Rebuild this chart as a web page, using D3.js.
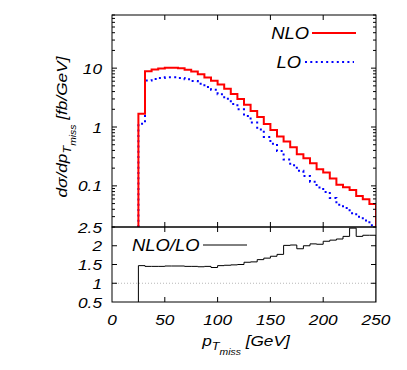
<!DOCTYPE html>
<html>
<head>
<meta charset="utf-8">
<script src="https://cdn.jsdelivr.net/npm/d3@7"></script>
<style>
  body { margin: 0; background: #fff; }
  text { font-family: "Liberation Sans", Arial, sans-serif; font-style: italic; fill: #000; }
</style>
</head>
<body>
<div id="graph"></div>
<script>
// bin edges in GeV (36 bins of 6.25 GeV)
var edges = [25, 31.25, 37.5, 43.75, 50, 56.25, 62.5, 68.75, 75, 81.25, 87.5, 93.75,
	100, 106.25, 112.5, 118.75, 125, 131.25, 137.5, 143.75, 150, 156.25, 162.5, 168.75,
	175, 181.25, 187.5, 193.75, 200, 206.25, 212.5, 218.75, 225, 231.25, 237.5, 243.75, 250];

// d sigma / d pT_miss [fb/GeV]
var nlo = [1.68, 8.9, 9.5, 9.9, 10.2, 10.2, 9.95, 9.35, 8.75, 7.85, 6.95, 6.1,
	5.3, 4.45, 3.65, 3.0, 2.4, 1.87, 1.48, 1.13, 0.89, 0.69, 0.565, 0.455,
	0.345, 0.295, 0.242, 0.192, 0.168, 0.134, 0.104, 0.095, 0.085, 0.067, 0.059, 0.049];
var lo = [1.14, 6.14, 6.55, 6.83, 6.99, 6.99, 6.82, 6.45, 6.03, 5.45, 4.79, 4.30,
	3.61, 3.01, 2.45, 2.0, 1.54, 1.19, 0.908, 0.677, 0.517, 0.39, 0.281, 0.225,
	0.180, 0.1475, 0.118, 0.094, 0.079, 0.0623, 0.0477, 0.0422, 0.0344, 0.0298, 0.0259, 0.0215];
// NLO/LO
var ratio = [1.47, 1.45, 1.45, 1.45, 1.46, 1.46, 1.46, 1.45, 1.45, 1.44, 1.45, 1.42,
	1.47, 1.48, 1.49, 1.5, 1.56, 1.57, 1.63, 1.67, 1.72, 1.77, 2.01, 2.02,
	1.92, 2.0, 2.05, 2.04, 2.12, 2.15, 2.18, 2.25, 2.47, 2.25, 2.28, 2.28];

var xTicks = [0, 50, 100, 150, 200, 250];
var yTicks = [0.1, 1, 10];
var rTicks = [0.5, 1, 1.5, 2, 2.5];

var W = 407, H = 370;
var pL = 112, pR = 376, pT = 15, pM = 227, pB = 302;

var x = d3.scaleLinear().domain([0, 250]).range([pL, pR]);
var y = d3.scaleLog().domain([0.02, 80]).range([pM, pT]);
var yr = d3.scaleLinear().domain([0.5, 2.5]).range([pB, pM]);

var vis = d3.select("#graph").append("svg")
	.attr("width", W)
	.attr("height", H);

vis.append("clipPath").attr("id", "clipTop")
	.append("rect").attr("x", pL).attr("y", pT).attr("width", pR - pL).attr("height", pM - pT);
vis.append("clipPath").attr("id", "clipBot")
	.append("rect").attr("x", pL).attr("y", pM).attr("width", pR - pL).attr("height", pB - pM);

function stepPoints(vals, ymin) {
	var pts = [[edges[0], ymin]];
	vals.forEach(function (v, i) { pts.push([edges[i], v]); });
	pts.push([edges[edges.length - 1], vals[vals.length - 1]]);
	pts.push([edges[edges.length - 1], ymin]);
	return pts;
}

var lineTop = d3.line().curve(d3.curveStepAfter)
	.x(function (d) { return x(d[0]); })
	.y(function (d) { return y(d[1]); });
var lineBot = d3.line().curve(d3.curveStepAfter)
	.x(function (d) { return x(d[0]); })
	.y(function (d) { return yr(d[1]); });

// ratio reference line at 1
vis.append("line")
	.attr("x1", pL).attr("x2", pR)
	.attr("y1", yr(1)).attr("y2", yr(1))
	.attr("style", "stroke:#999;stroke-width:0.7;stroke-dasharray:1,2");

var gTop = vis.append("g").attr("clip-path", "url(#clipTop)");
gTop.append("path")
	.attr("d", lineTop(stepPoints(lo, 0.02)))
	.attr("style", "fill:none;stroke:#0000ff;stroke-width:2;stroke-dasharray:2,3.3");
gTop.append("path")
	.attr("d", lineTop(stepPoints(nlo, 0.02)))
	.attr("style", "fill:none;stroke:#ff0000;stroke-width:2");

vis.append("g").attr("clip-path", "url(#clipBot)")
	.append("path")
	.attr("d", lineBot(stepPoints(ratio, 0.5)))
	.attr("style", "fill:none;stroke:#000;stroke-width:1");

// frames
vis.append("rect").attr("x", pL).attr("y", pT).attr("width", pR - pL).attr("height", pM - pT)
	.attr("style", "fill:none;stroke:#000;stroke-width:1");
vis.append("rect").attr("x", pL).attr("y", pM).attr("width", pR - pL).attr("height", pB - pM)
	.attr("style", "fill:none;stroke:#000;stroke-width:1");

// ticks
var tk = vis.append("g").attr("style", "stroke:#000;stroke-width:1");
xTicks.slice(1, -1).forEach(function (t) {
	var px = x(t);
	tk.append("line").attr("x1", px).attr("x2", px).attr("y1", pT).attr("y2", pT + 5);
	tk.append("line").attr("x1", px).attr("x2", px).attr("y1", pM - 5).attr("y2", pM + 5);
	tk.append("line").attr("x1", px).attr("x2", px).attr("y1", pB - 5).attr("y2", pB);
});
var minor = [];
[0.01, 0.1, 1, 10].forEach(function (dec) {
	for (var m = 2; m <= 9; m++) {
		var v = dec * m;
		if (v >= 0.02 && v <= 80) minor.push(v);
	}
});
minor.forEach(function (v) {
	tk.append("line").attr("x1", pL).attr("x2", pL + 3).attr("y1", y(v)).attr("y2", y(v));
	tk.append("line").attr("x1", pR - 3).attr("x2", pR).attr("y1", y(v)).attr("y2", y(v));
});
yTicks.forEach(function (v) {
	tk.append("line").attr("x1", pL).attr("x2", pL + 5).attr("y1", y(v)).attr("y2", y(v));
	tk.append("line").attr("x1", pR - 5).attr("x2", pR).attr("y1", y(v)).attr("y2", y(v));
});
rTicks.slice(1, -1).forEach(function (v) {
	tk.append("line").attr("x1", pL).attr("x2", pL + 5).attr("y1", yr(v)).attr("y2", yr(v));
	tk.append("line").attr("x1", pR - 5).attr("x2", pR).attr("y1", yr(v)).attr("y2", yr(v));
});

// text helper: gnuplot output looks a bit stretched sideways
var sx = 1.15;
function label(px, py, anchor, size, str) {
	return vis.append("text")
		.attr("transform", "translate(" + px + "," + py + ") scale(" + sx + ",1)")
		.attr("text-anchor", anchor).attr("font-size", size).text(str);
}

var fs = 15;
yTicks.forEach(function (v) {
	label(pL - 10, y(v) + 5.5, "end", fs, v);
});
rTicks.forEach(function (v) {
	label(pL - 10, yr(v) + 5.5, "end", fs, v);
});
xTicks.forEach(function (t) {
	label(x(t), pB + 23, "middle", fs, t);
});

// axis titles
var xt = label(246, 346, "middle", fs, null);
xt.append("tspan").text("p");
xt.append("tspan").attr("font-size", 11).attr("dy", 4).text("T");
xt.append("tspan").attr("font-size", 9).attr("dy", 5).text("miss");
xt.append("tspan").attr("dy", -9).text(" [GeV]");

var yt = vis.append("text").attr("transform", "translate(67,127) rotate(-90) scale(" + sx + ",1)")
	.attr("text-anchor", "middle").attr("font-size", fs);
yt.append("tspan").text("d\u03c3/dp");
yt.append("tspan").attr("font-size", 11).attr("dy", 4).text("T");
yt.append("tspan").attr("font-size", 9).attr("dy", 5).text("miss");
yt.append("tspan").attr("dy", -9).text(" [fb/GeV]");

// legends
label(309, 39, "end", 16, "NLO");
vis.append("line").attr("x1", 312).attr("x2", 356).attr("y1", 33).attr("y2", 33)
	.attr("style", "stroke:#ff0000;stroke-width:2");
label(301, 68, "end", 16, "LO");
vis.append("line").attr("x1", 305).attr("x2", 354).attr("y1", 62).attr("y2", 62)
	.attr("style", "stroke:#0000ff;stroke-width:2;stroke-dasharray:2,3.3");
label(132, 251, "start", 16, "NLO/LO");
vis.append("line").attr("x1", 203).attr("x2", 247).attr("y1", 245).attr("y2", 245)
	.attr("style", "stroke:#000;stroke-width:1");
</script>
</body>
</html>
